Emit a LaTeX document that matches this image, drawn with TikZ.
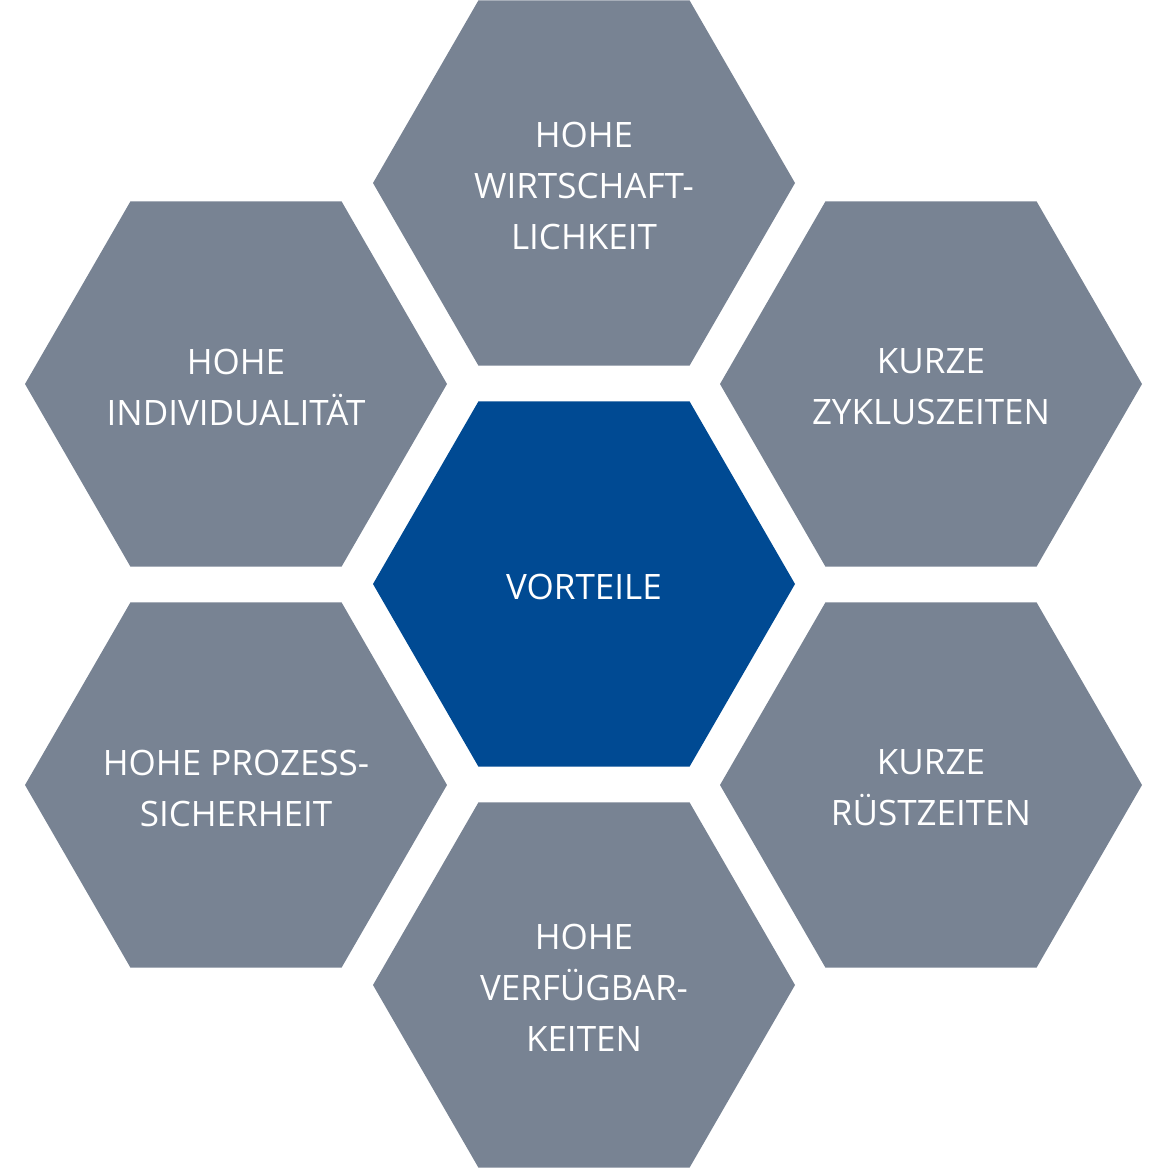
\documentclass[tikz,border=0pt]{standalone}
\usepackage{fontspec}
\setmainfont{Open Sans}
\usetikzlibrary{shapes.geometric}

\definecolor{hexgray}{HTML}{788393}
\definecolor{hexblue}{HTML}{004A93}

\tikzset{
  hexa/.style={regular polygon, regular polygon sides=6, minimum size=422pt,
    inner sep=0pt, outer sep=0pt, fill=hexgray},
  hexamid/.style={hexa, fill=hexblue},
  hexlabel/.style={text=white, align=center, inner sep=0pt, yshift=-3pt,
    font=\fontsize{35}{51}\selectfont}
}

\begin{document}
\begin{tikzpicture}[x=1pt,y=-1pt]
            \useasboundingbox (0,0) rectangle (1170,1168);
            \clip (0,0) rectangle (1170,1168);
            % honeycomb
            \node[hexamid] (vorteile) at (584,584) {};
            \node[hexa] (wirtschaft) at (584,183) {};
            \node[hexa] (zyklus) at (931,384) {};
            \node[hexa] (ruest) at (931,785) {};
            \node[hexa] (verfuegbar) at (584,985) {};
            \node[hexa] (prozess) at (236,785) {};
            \node[hexa] (individual) at (236,384) {};
            % texts
            \node[hexlabel] (vorteile-t) at (vorteile) {VORTEILE};
            \node[hexlabel] (wirtschaft-t) at (wirtschaft) {HOHE\\WIRTSCHAFT-\\LICHKEIT};
            \node[hexlabel] (zyklus-t) at (zyklus) {KURZE\\ZYKLUSZEITEN};
            \node[hexlabel] (ruest-t) at (ruest) {KURZE\\RÜSTZEITEN};
            \node[hexlabel] (verfuegbar-t) at (verfuegbar) {HOHE\\VERFÜGBAR-\\KEITEN};
            \node[hexlabel] (prozess-t) at (prozess) {HOHE PROZESS-\\SICHERHEIT};
            \node[hexlabel] (individual-t) at (individual) {HOHE\\INDIVIDUALITÄT};
        \end{tikzpicture}
\end{document}
